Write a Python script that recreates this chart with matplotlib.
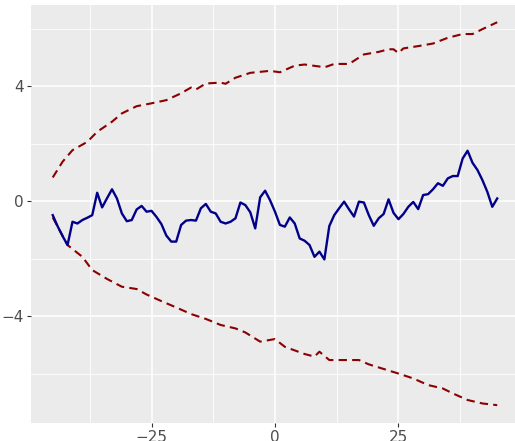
import matplotlib
matplotlib.use("Agg")
import matplotlib.pyplot as plt
import numpy as np

# lag values and observed series
lags = list(range(-45, 46))
observed = [
    -0.49, -0.88, -1.22, -1.53, -0.72, -0.78, -0.66, -0.58, -0.49, 0.29,
    -0.22, 0.10, 0.41, 0.09, -0.43, -0.70, -0.66, -0.29, -0.17, -0.37,
    -0.34, -0.55, -0.80, -1.20, -1.41, -1.41, -0.83, -0.68, -0.66, -0.68,
    -0.25, -0.10, -0.37, -0.43, -0.72, -0.78, -0.72, -0.60, -0.05, -0.14,
    -0.39, -0.95, 0.13, 0.36, 0.03, -0.37, -0.83, -0.89, -0.57, -0.78,
    -1.30, -1.38, -1.53, -1.94, -1.76, -2.03, -0.87, -0.49, -0.25, -0.02,
    -0.29, -0.54, -0.02, -0.05, -0.49, -0.86, -0.60, -0.45, 0.06, -0.41,
    -0.63, -0.45, -0.20, -0.03, -0.28, 0.21, 0.24, 0.41, 0.62, 0.53,
    0.79, 0.87, 0.87, 1.48, 1.75, 1.33, 1.08, 0.73, 0.32, -0.20,
    0.09,
]

# envelope bounds
upper_x = [-45, -43, -41, -38, -36, -33, -31, -28, -25, -22, -19, -17, -16,
           -14, -11, -10, -8, -5, -1, 1, 4, 6, 9, 10, 12, 15, 18, 21, 23,
           24, 25, 26, 29, 32, 35, 38, 40, 42, 45]
upper_y = [0.82, 1.37, 1.77, 2.06, 2.41, 2.76, 3.05, 3.30, 3.40, 3.51, 3.75,
           3.95, 3.88, 4.09, 4.12, 4.08, 4.29, 4.46, 4.53, 4.48, 4.71, 4.75,
           4.68, 4.65, 4.77, 4.77, 5.10, 5.19, 5.28, 5.28, 5.15, 5.31, 5.39,
           5.48, 5.68, 5.81, 5.81, 5.98, 6.22]

lower_x = [-45, -42, -39, -37, -34, -31, -28, -26, -23, -20, -17, -14, -11,
           -8, -6, -3, 0, 2, 6, 8, 9, 11, 14, 17, 19, 22, 25, 28, 31, 34,
           36, 39, 42, 45]
lower_y = [-0.57, -1.53, -1.94, -2.40, -2.71, -2.98, -3.06, -3.25, -3.48,
           -3.70, -3.93, -4.10, -4.31, -4.43, -4.57, -4.89, -4.80, -5.07,
           -5.32, -5.41, -5.24, -5.53, -5.53, -5.53, -5.68, -5.84, -6.00,
           -6.17, -6.40, -6.52, -6.69, -6.92, -7.04, -7.10]

fig = plt.figure(figsize=(5.15, 4.41), dpi=100)
ax = fig.add_axes([31 / 515, 18 / 441, 484 / 515, 418 / 441])
ax.set_facecolor("#EBEBEB")

ax.set_xlim(-49.4, 48.6)
ax.set_ylim(-7.72, 6.82)
ax.set_xticks([-25, 0, 25])
ax.set_xticklabels(["\u221225", "0", "25"])
ax.set_yticks([-4, 0, 4])
ax.set_yticklabels(["\u22124", "0", "4"])
ax.set_xticks([-37.5, -12.5, 12.5, 37.5], minor=True)
ax.set_yticks([-6, -2, 2, 6], minor=True)

ax.grid(which="major", color="white", linewidth=1.1)
ax.grid(which="minor", color="white", linewidth=0.6)
ax.set_axisbelow(True)
for s in ax.spines.values():
    s.set_visible(False)
ax.tick_params(which="major", length=3, width=0.8, color="#333333",
               labelcolor="#4D4D4D", labelsize=11, pad=2)
ax.tick_params(which="minor", length=0)

up, = ax.plot(upper_x, upper_y, color="#8B0000", linewidth=1.5)
up.set_dashes([4, 2.5])
lo, = ax.plot(lower_x, lower_y, color="#8B0000", linewidth=1.5)
lo.set_dashes([4, 2.5])
ax.plot(lags, observed, color="#00008B", linewidth=1.7)

fig.savefig("out.png", dpi=100)
